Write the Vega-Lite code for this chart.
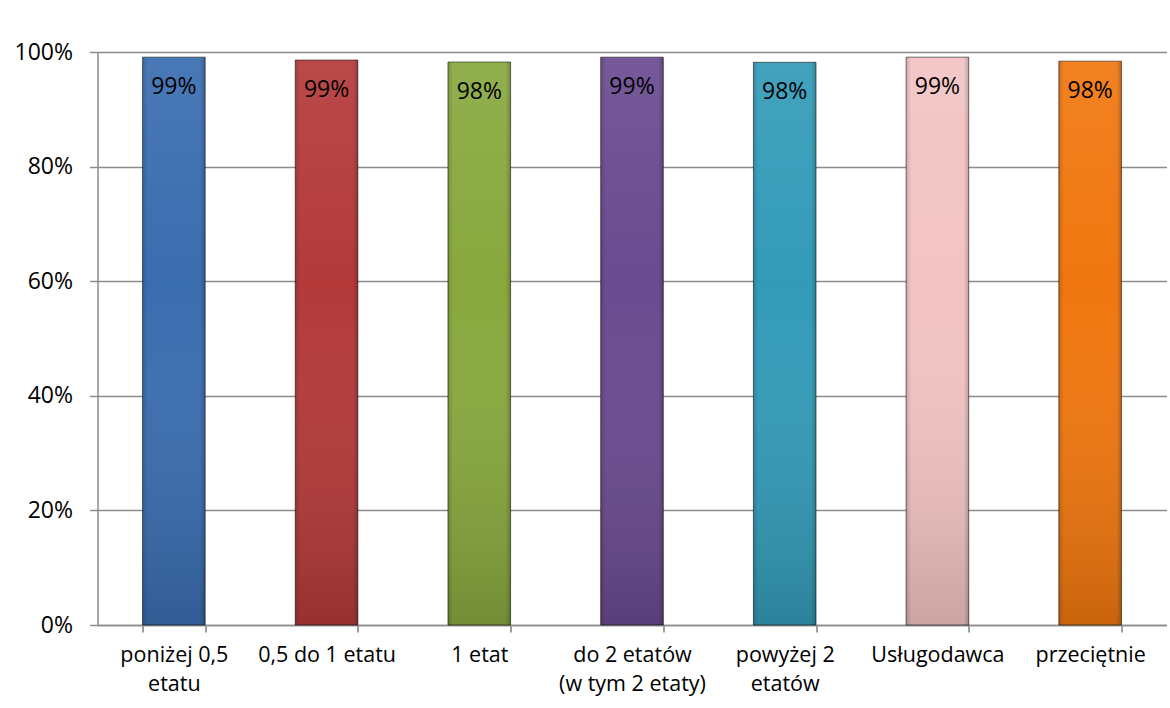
{
  "$schema": "https://vega.github.io/schema/vega-lite/v6.json",
  "autosize": {"type": "none"},
  "width": 1069,
  "height": 573,
  "padding": {"left": 97.5, "top": 52, "right": 3.5, "bottom": 83},
  "background": "#ffffff",
  "config": {
    "view": {"stroke": null},
    "font": "Open Sans"
  },
  "data": {
    "values": [
      {"kategoria": "poniżej 0,5|etatu", "wartosc": 0.991},
      {"kategoria": "0,5 do 1 etatu", "wartosc": 0.986},
      {"kategoria": "1 etat", "wartosc": 0.9825},
      {"kategoria": "do 2 etatów|(w tym 2 etaty)", "wartosc": 0.991},
      {"kategoria": "powyżej 2|etatów", "wartosc": 0.982},
      {"kategoria": "Usługodawca", "wartosc": 0.991},
      {"kategoria": "przeciętnie", "wartosc": 0.984}
    ]
  },
  "encoding": {
    "x": {
      "field": "kategoria",
      "type": "nominal",
      "sort": null,
      "scale": {"paddingInner": 0.59, "paddingOuter": 0.295},
      "axis": {
        "title": null,
        "labelAngle": 0,
        "labelExpr": "split(datum.label, '|')",
        "labelFont": "Open Sans",
        "labelFontSize": 21.5,
        "labelColor": "#000000",
        "labelLineHeight": 29,
        "labelPadding": 12,
        "ticks": true,
        "tickBand": "extent",
        "tickSize": 7,
        "tickColor": "#7f7f7f",
        "tickOpacity": 1,
        "tickWidth": 1.5,
        "domainColor": "#8c8c8c",
        "domainWidth": 1.5,
        "grid": false
      }
    },
    "y": {
      "field": "wartosc",
      "type": "quantitative",
      "scale": {"domain": [0, 1], "nice": false},
      "axis": {
        "title": null,
        "values": [0, 0.2, 0.4, 0.6, 0.8, 1],
        "format": ".0%",
        "labelFont": "Open Sans",
        "labelFontSize": 23,
        "labelColor": "#000000",
        "labelPadding": 17,
        "tickSize": 8,
        "tickColor": "#8c8c8c",
        "tickWidth": 1.5,
        "domainColor": "#8c8c8c",
        "domainWidth": 1.5,
        "grid": true,
        "gridColor": "#8c8c8c",
        "gridWidth": 1.5
      }
    }
  },
  "layer": [
    {
      "mark": {"type": "bar", "stroke": "#000000", "strokeOpacity": 0.55, "strokeWidth": 1},
      "encoding": {
        "color": {
          "field": "kategoria",
          "type": "nominal",
          "sort": null,
          "legend": null,
          "scale": {
            "range": ["#3a6db0", "#b43a3a", "#88a83e", "#6a4b90", "#339bb8", "#f2c3c3", "#f0770f"]
          }
        }
      }
    },
    {
      "mark": {
        "type": "bar",
        "color": {
          "gradient": "linear",
          "x1": 0, "y1": 0, "x2": 0, "y2": 1,
          "stops": [
            {"offset": 0, "color": "rgba(255,255,255,0.08)"},
            {"offset": 0.4, "color": "rgba(255,255,255,0)"},
            {"offset": 1, "color": "rgba(0,0,0,0.16)"}
          ]
        }
      }
    },
    {
      "mark": {
        "type": "bar",
        "color": {
          "gradient": "linear",
          "x1": 0, "y1": 0, "x2": 1, "y2": 0,
          "stops": [
            {"offset": 0, "color": "rgba(0,0,0,0.15)"},
            {"offset": 0.08, "color": "rgba(0,0,0,0)"},
            {"offset": 0.92, "color": "rgba(0,0,0,0)"},
            {"offset": 1, "color": "rgba(0,0,0,0.2)"}
          ]
        }
      }
    },
    {
      "mark": {
        "type": "text",
        "baseline": "alphabetic",
        "align": "center",
        "dy": 37,
        "font": "Open Sans",
        "fontSize": 23,
        "color": "#000000"
      },
      "encoding": {
        "text": {"field": "wartosc", "type": "quantitative", "format": ".0%"}
      }
    }
  ]
}
